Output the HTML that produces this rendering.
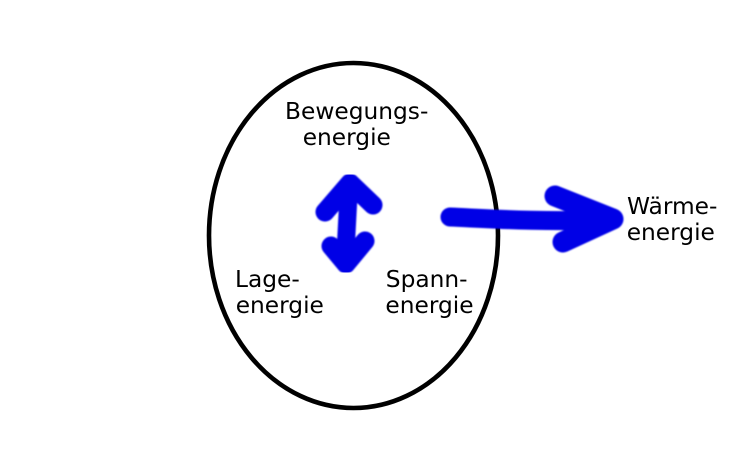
<!DOCTYPE html>
<html>
<head>
<meta charset="utf-8">
<style>
html,body{margin:0;padding:0;background:#fff;}
body{width:734px;height:467px;overflow:hidden;}
svg{display:block;}
text{font-family:"DejaVu Sans","Liberation Sans",sans-serif;font-size:23.3px;fill:#000;}
</style>
</head>
<body>
<svg width="734" height="467" viewBox="0 0 734 467" xmlns="http://www.w3.org/2000/svg">
  <defs>
    <filter id="soft" x="-10%" y="-10%" width="120%" height="120%">
      <feGaussianBlur stdDeviation="0.9"/>
    </filter>
  </defs>
  <rect width="734" height="467" fill="#fff"/>
  <ellipse cx="353.5" cy="235.5" rx="144.5" ry="172.5" fill="none" stroke="#000" stroke-width="4.6"/>

  <g filter="url(#soft)" stroke="#0000e6" fill="none" stroke-linecap="round" stroke-linejoin="round">
    <path d="M325,212 L350,183 L373,205" stroke-width="19"/>
    <path d="M349,186 L345,262" stroke-width="18"/>
    <path d="M331,246 L346,264 L365,241" stroke-width="19"/>
    <path d="M450,217 C495,219 535,222 612,220" stroke-width="19"/>
    <path d="M555,196 L613,219 L563,242" stroke-width="21"/>
  </g>

  <text x="285" y="119">Bewegungs-</text>
  <text x="302.7" y="145">energie</text>
  <text x="235" y="287">Lage-</text>
  <text x="235.7" y="313">energie</text>
  <text x="385.8" y="287">Spann-</text>
  <text x="385.4" y="313">energie</text>
  <text x="627" y="214">Wärme-</text>
  <text x="626.7" y="240">energie</text>
</svg>
</body>
</html>
